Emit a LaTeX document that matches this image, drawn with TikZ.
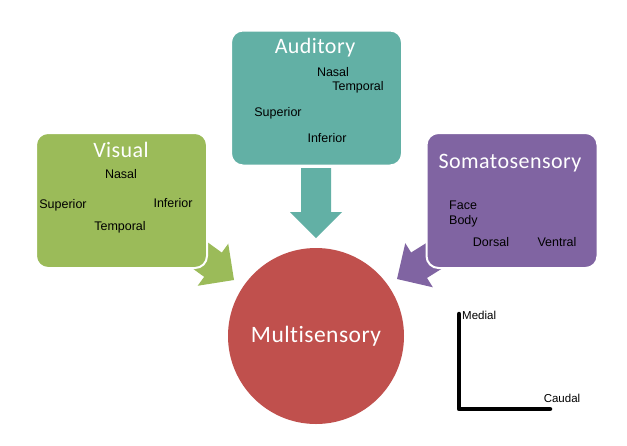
\documentclass[tikz,border=0pt]{standalone}
\usepackage{fontspec}
\setmainfont{Liberation Sans}
\newfontfamily\titlefont[Ligatures=NoCommon,LetterSpace=2]{Carlito}
\definecolor{visgreen}{HTML}{9BBB59}
\definecolor{audteal}{HTML}{62B0A5}
\definecolor{sompurple}{HTML}{8064A2}
\definecolor{multred}{HTML}{C0504D}
\begin{document}
\begin{tikzpicture}[x=1pt,y=-1pt,
  box/.style={rounded corners=12pt, draw=white, line width=2pt, minimum width=171pt, minimum height=135pt, inner sep=0pt},
  title/.style={text=white, font=\titlefont\fontsize{22}{26}\selectfont, inner sep=0pt},
  lbl/.style={text=black, font=\fontsize{12.5}{14}\selectfont, inner sep=0pt},
  blockarrow/.pic={\fill (0,0) -- (-26,-26) -- (-26,-15) -- (-70,-15) -- (-70,15) -- (-26,15) -- (-26,26) -- cycle;}
]
\useasboundingbox (0,0) rectangle (627,445);
\fill[white] (0,0) rectangle (627,445);

% block arrows (behind boxes)
\pic[fill=visgreen, rotate=-36] at (234,280) {blockarrow};
\pic[fill=audteal, rotate=-90] at (316,238) {blockarrow};
\pic[fill=sompurple, rotate=-148] at (397,279) {blockarrow};

% boxes
\node[box, fill=visgreen] (visual) at (121.5,200.5) {};
\node[box, fill=audteal] (auditory) at (316.5,98) {};
\node[box, fill=sompurple] (somato) at (512,200.5) {};

% circle
\node[circle, fill=multred, minimum size=176pt, inner sep=0pt, text=white,
      font=\titlefont\fontsize{23.5}{28}\selectfont] (multi) at (316,336) {Multisensory};

% Visual labels
\node[title] (vist) at (121,150) {Visual};
\node[lbl] (visn) at (121,174) {Nasal};
\node[lbl] (viss) at (63,205) {Superior};
\node[lbl] (visi) at (173,203) {Inferior};
\node[lbl] (vistp) at (120,227) {Temporal};

% Auditory labels
\node[title] (audt) at (315,48) {Auditory};
\node[lbl] (audn) at (333,72) {Nasal};
\node[lbl] (audtp) at (358,87) {Temporal};
\node[lbl] (auds) at (278,113) {Superior};
\node[lbl] (audi) at (327,138) {Inferior};

% Somatosensory labels
\node[title] (somt) at (510,163) {Somatosensory};
\node[lbl, anchor=west] (somf) at (449,205) {Face};
\node[lbl, anchor=west] (somb) at (449,221) {Body};
\node[lbl] (somd) at (491,242) {Dorsal};
\node[lbl] (somv) at (557,242) {Ventral};

% axes
\coordinate (ltop) at (459,314);
\coordinate (lcorner) at (459,409);
\coordinate (lend) at (550,409);
\draw[line width=4.5pt, line cap=round, line join=round] (ltop) -- (lcorner) -- (lend);
\node[lbl, anchor=west, font=\fontsize{11.5}{13}\selectfont] (medial) at (462,315) {Medial};
\node[lbl, font=\fontsize{11.5}{13}\selectfont] (caudal) at (562,398) {Caudal};
\end{tikzpicture}
\end{document}
